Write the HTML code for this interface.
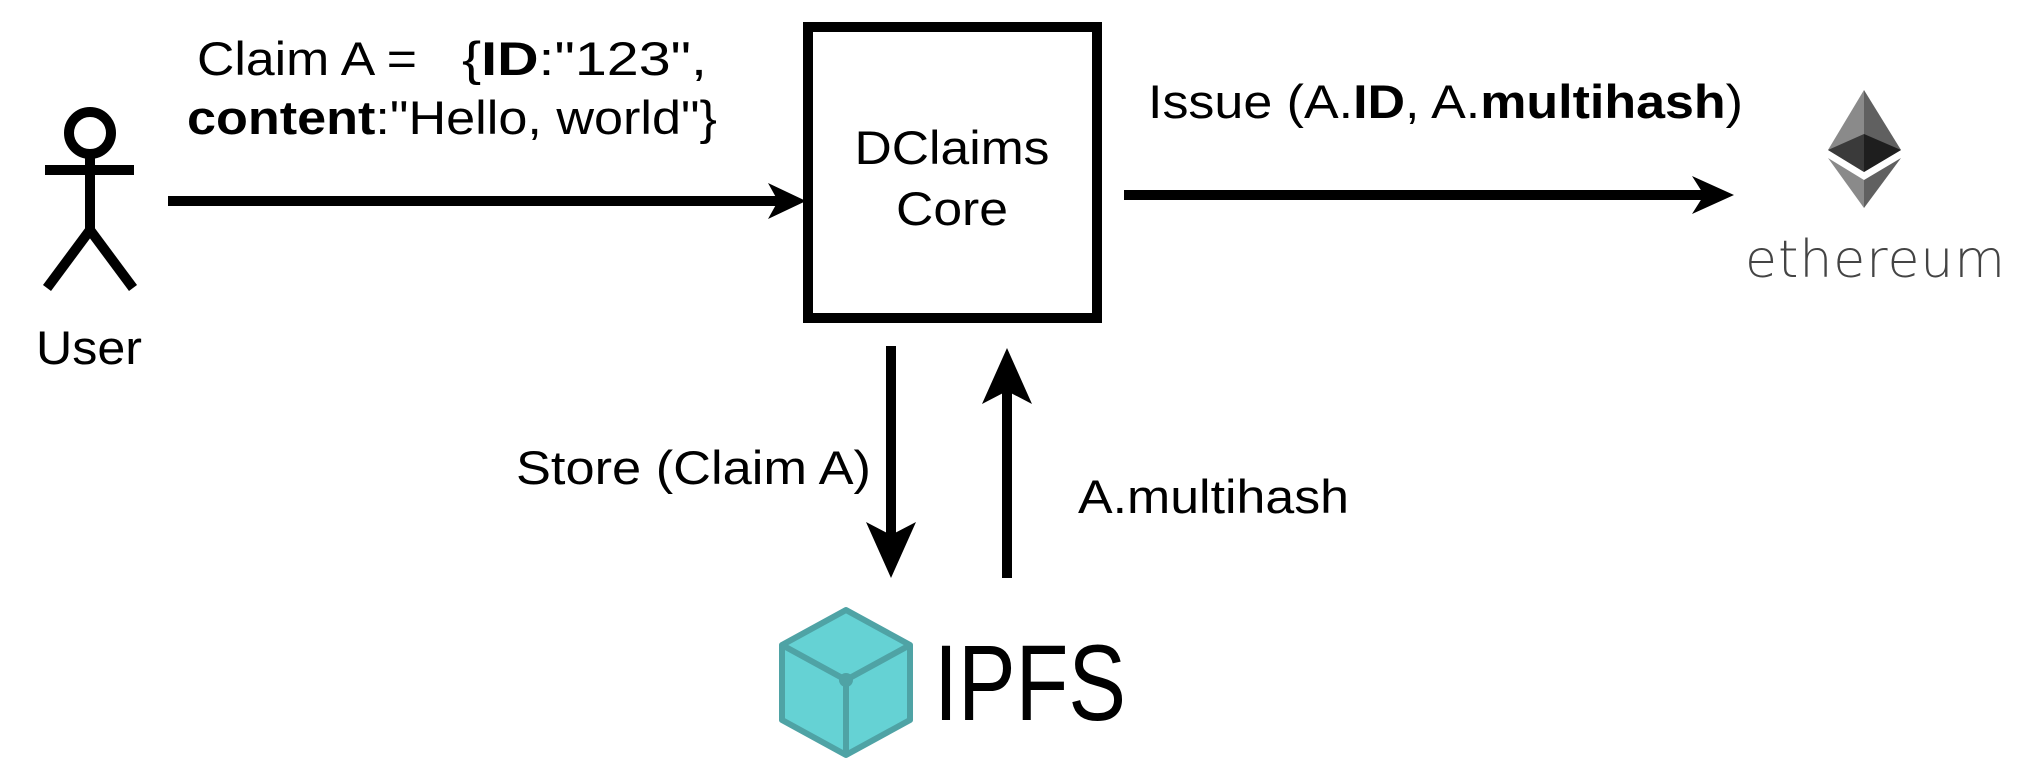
<!DOCTYPE html>
<html><head><meta charset="utf-8"><style>
html,body{margin:0;padding:0;background:#fff;}
svg{display:block;}
text{font-family:"Liberation Sans",Arial,sans-serif;fill:#000;}
</style></head><body>
<svg width="2022" height="784" viewBox="0 0 2022 784" xmlns="http://www.w3.org/2000/svg">
<!-- stick figure -->
<g stroke="#000" stroke-width="10" fill="none">
<circle cx="90" cy="133" r="21"/>
<line x1="90" y1="154" x2="90" y2="230"/>
<line x1="45" y1="170" x2="134" y2="170"/>
<line x1="90" y1="230" x2="47" y2="288"/>
<line x1="90" y1="230" x2="133" y2="288"/>
</g>
<text x="36" y="364" font-size="47" textLength="106" lengthAdjust="spacingAndGlyphs">User</text>

<!-- claim text -->
<text x="197" y="75" font-size="47" textLength="220" lengthAdjust="spacingAndGlyphs">Claim A =</text>
<text x="462" y="75" font-size="47" textLength="245" lengthAdjust="spacingAndGlyphs">{<tspan font-weight="bold">ID</tspan>:"123",</text>
<text x="187" y="134" font-size="47" textLength="530" lengthAdjust="spacingAndGlyphs"><tspan font-weight="bold">content</tspan>:"Hello, world"}</text>

<!-- user -> core arrow -->
<line x1="168" y1="201" x2="790" y2="201" stroke="#000" stroke-width="10"/>
<path d="M806 201 L768 183 L778 201 L768 219 Z" fill="#000"/>

<!-- core box -->
<rect x="808" y="27" width="289" height="291" fill="none" stroke="#000" stroke-width="10"/>
<text x="952" y="164" font-size="47" text-anchor="middle" textLength="195" lengthAdjust="spacingAndGlyphs">DClaims</text>
<text x="952" y="225" font-size="47" text-anchor="middle" textLength="112" lengthAdjust="spacingAndGlyphs">Core</text>

<!-- core -> eth -->
<line x1="1124" y1="195" x2="1715" y2="195" stroke="#000" stroke-width="10"/>
<path d="M1734 195 L1692 176 L1704 195 L1692 214 Z" fill="#000"/>
<text x="1148" y="118" font-size="47" textLength="595" lengthAdjust="spacingAndGlyphs">Issue (A.<tspan font-weight="bold">ID</tspan>, A.<tspan font-weight="bold">multihash</tspan>)</text>

<!-- ethereum logo -->
<polygon points="1864,90 1828,150 1864,172" fill="#8a8a8a"/>
<polygon points="1864,90 1901,150 1864,172" fill="#606060"/>
<polygon points="1828,150 1864,134 1864,172" fill="#3a3a3a"/>
<polygon points="1901,150 1864,134 1864,172" fill="#1e1e1e"/>
<polygon points="1828,158 1864,180 1864,208" fill="#8a8a8a"/>
<polygon points="1901,158 1864,180 1864,208" fill="#606060"/>
<text x="1745" y="277" font-size="52" style="font-family:'DejaVu Sans',sans-serif;fill:#444" font-weight="200" textLength="260" lengthAdjust="spacing">ethereum</text>

<!-- down arrow -->
<line x1="891" y1="346" x2="891" y2="560" stroke="#000" stroke-width="10"/>
<path d="M891 578 L866 522 L891 535 L916 522 Z" fill="#000"/>
<text x="516" y="484" font-size="47" textLength="355" lengthAdjust="spacingAndGlyphs">Store (Claim A)</text>

<!-- up arrow -->
<line x1="1007" y1="578" x2="1007" y2="370" stroke="#000" stroke-width="10"/>
<path d="M1007 348 L982 404 L1007 391 L1032 404 Z" fill="#000"/>
<text x="1078" y="513" font-size="47" textLength="271" lengthAdjust="spacingAndGlyphs">A.multihash</text>

<!-- IPFS cube -->
<g stroke="#4fa3a5" stroke-width="6" stroke-linejoin="round">
<polygon points="846,610 910,645 910,720 846,755 782,720 782,645" fill="#65d2d4"/>
<polyline points="782,645 846,680 910,645" fill="none"/>
<line x1="846" y1="680" x2="846" y2="755"/>
</g>
<circle cx="846" cy="680" r="7" fill="#4fa3a5"/>
<text x="934" y="720" font-size="108" textLength="192" lengthAdjust="spacingAndGlyphs">IPFS</text>
</svg>
</body></html>
